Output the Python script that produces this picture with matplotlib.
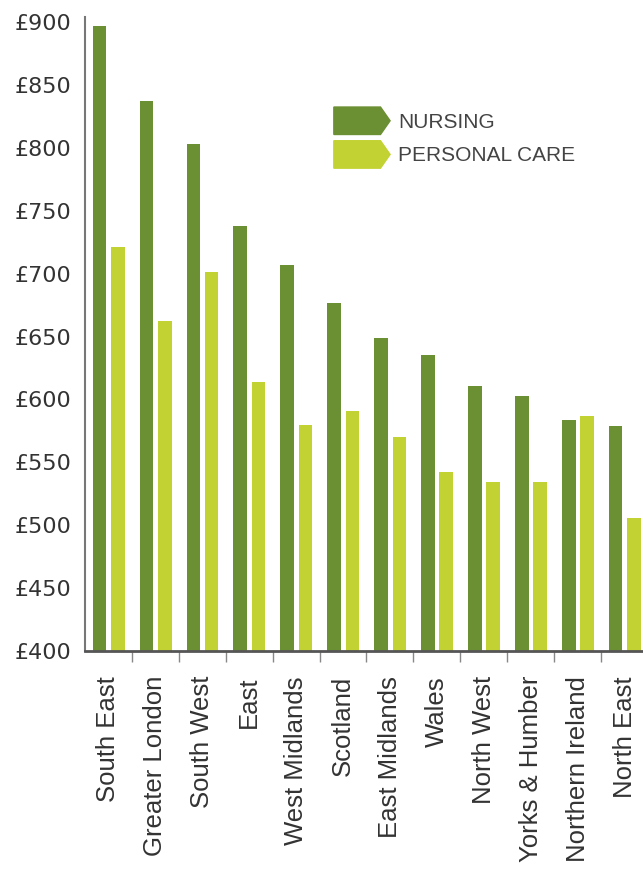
import numpy as np
import matplotlib.pyplot as plt
from matplotlib.patches import Polygon, Patch
from matplotlib.legend_handler import HandlerPatch

# data (weekly fees, £)
regions = ["South East", "Greater London", "South West", "East", "West Midlands",
           "Scotland", "East Midlands", "Wales", "North West", "Yorks & Humber",
           "Northern Ireland", "North East"]
nursing = [897, 837, 803, 738, 707, 677, 649, 635, 611, 603, 584, 579]
personal_care = [721, 662, 701, 614, 580, 591, 570, 542, 534, 534, 587, 506]
yticks = [400, 450, 500, 550, 600, 650, 700, 750, 800, 850, 900]

c_nurs = "#6b8f33"
c_pc = "#c2d232"
txt = "#333333"

plt.rcParams['font.family'] = ['Liberation Sans', 'DejaVu Sans']

fig = plt.figure(figsize=(6.43, 8.71), dpi=100)
ax = fig.add_axes([85/643, 220/871, 563/643, 634/871])

x = np.arange(len(regions))
w = 0.29
ax.bar(x - 0.19, nursing, w, color=c_nurs, label="NURSING")
ax.bar(x + 0.20, personal_care, w, color=c_pc, label="PERSONAL CARE")

ax.set_xlim(-0.5, len(regions) - 0.5)
ax.set_ylim(400, 904)

ax.set_yticks(yticks)
ax.set_yticklabels(["£%d" % v for v in yticks], fontsize=16, color=txt,
                   family=['DejaVu Sans'])
ax.tick_params(axis='y', length=0, pad=10)

ax.set_xticks(x)
ax.set_xticklabels(regions, rotation=90, fontsize=18.5, color=txt)
ax.set_xticks(x[1:] - 0.5, minor=True)
ax.tick_params(axis='x', which='major', length=0, pad=18)
ax.tick_params(axis='x', which='minor', length=8, width=1, color="#888888")

for s in ["top", "right"]:
    ax.spines[s].set_visible(False)
ax.spines["left"].set_color("#777777")
ax.spines["left"].set_linewidth(1.5)
ax.spines["bottom"].set_color("#555555")
ax.spines["bottom"].set_linewidth(2)


# arrow shaped legend keys
def arrow_key(legend, orig_handle, xdescent, ydescent, width, height, fontsize):
    x0, y0 = -xdescent, -ydescent
    tip = height * 0.35
    pts = [(x0, y0), (x0 + width - tip, y0), (x0 + width, y0 + height / 2),
           (x0 + width - tip, y0 + height), (x0, y0 + height)]
    return Polygon(pts, closed=True)


handles = [Patch(color=c_nurs), Patch(color=c_pc)]
leg = ax.legend(handles, ["NURSING", "PERSONAL CARE"],
                handler_map={Patch: HandlerPatch(patch_func=arrow_key)},
                loc="upper left", bbox_to_anchor=(0.442, 0.858), frameon=False,
                fontsize=15, handlelength=2.7, handleheight=1.65,
                handletextpad=0.4, labelspacing=0.3, borderpad=0, borderaxespad=0)
for t in leg.get_texts():
    t.set_color("#444444")

fig.savefig("out.png", dpi=100)
